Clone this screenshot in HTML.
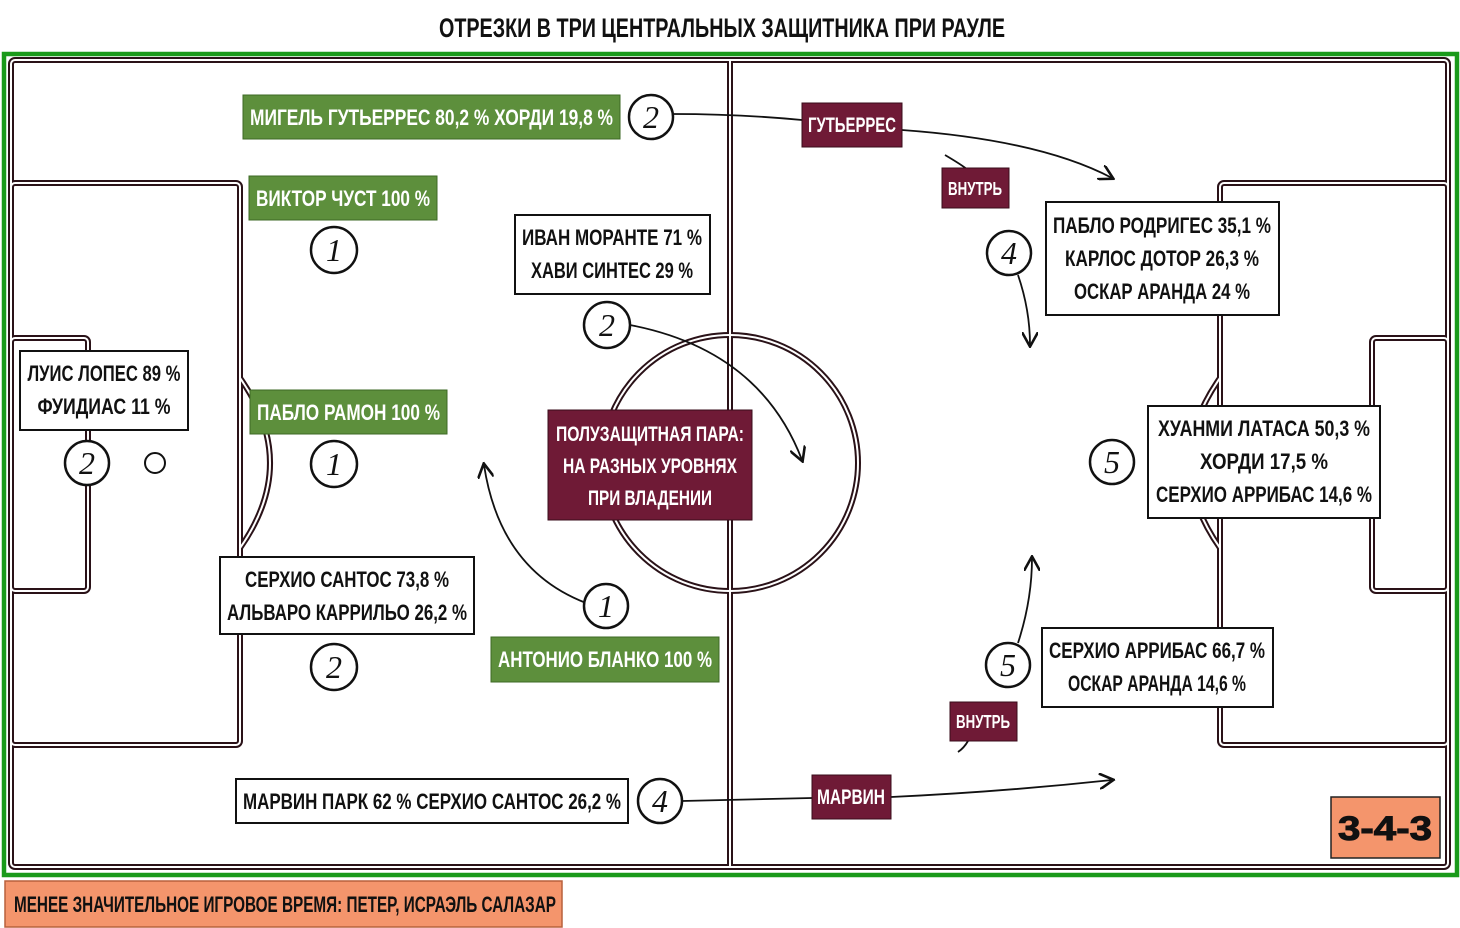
<!DOCTYPE html>
<html><head><meta charset="utf-8"><style>
html,body{margin:0;padding:0;background:#fff;}
svg{display:block}
text{font-family:"Liberation Sans Narrow","Liberation Sans",sans-serif;font-weight:bold;}
text.num{font-family:"Liberation Serif",serif;font-style:italic;font-weight:normal;}
</style></head><body>
<svg width="1460" height="928" viewBox="0 0 1460 928" xmlns="http://www.w3.org/2000/svg">
<defs>
<marker id="ah" viewBox="0 0 10 10" refX="8" refY="5" markerWidth="9" markerHeight="9" orient="auto-start-reverse">
<path d="M0,0 L9,5 L0,10" fill="none" stroke="#111" stroke-width="1.6"/></marker>
</defs>
<rect width="1460" height="928" fill="#fff"/>
<text x="722" y="37" text-anchor="middle" font-size="27" fill="#111" textLength="566" lengthAdjust="spacingAndGlyphs">ОТРЕЗКИ В ТРИ ЦЕНТРАЛЬНЫХ ЗАЩИТНИКА ПРИ РАУЛЕ</text>
<rect x="4" y="54" width="1453" height="821" fill="none" stroke="#1a9a1a" stroke-width="4.5"/>
<g fill="none" stroke-linejoin="round">
<g stroke="#2a1218" stroke-width="6">
<rect x="11" y="60" width="1437" height="807" rx="4"/>
<line x1="730" y1="60" x2="730" y2="867"/>
<circle cx="730" cy="463" r="128"/>
<rect x="11" y="183" width="229" height="562" rx="4"/>
<rect x="11" y="338" width="77" height="253" rx="4"/>
<rect x="1220" y="183" width="228" height="562" rx="4"/>
<rect x="1372" y="338" width="76" height="253" rx="4"/>
<path d="M240,378 Q300,463 240,548"/>
<path d="M1220,378 Q1160,463 1220,548"/>
</g>
<g stroke="#fff" stroke-width="2">
<rect x="11" y="60" width="1437" height="807" rx="4"/>
<line x1="730" y1="60" x2="730" y2="867"/>
<circle cx="730" cy="463" r="128"/>
<rect x="11" y="183" width="229" height="562" rx="4"/>
<rect x="11" y="338" width="77" height="253" rx="4"/>
<rect x="1220" y="183" width="228" height="562" rx="4"/>
<rect x="1372" y="338" width="76" height="253" rx="4"/>
<path d="M240,378 Q300,463 240,548"/>
<path d="M1220,378 Q1160,463 1220,548"/>
</g>
</g>
<g fill="none" stroke="#111" stroke-width="1.8">
<path d="M673,114 Q740,114 802,120"/>
<path d="M902,130 Q1040,140 1112,178" marker-end="url(#ah)"/>
<path d="M945,155 Q962,165 968,170"/>
<path d="M1018,275 Q1030,310 1030,345" marker-end="url(#ah)"/>
<path d="M630,325 Q760,350 802,460" marker-end="url(#ah)"/>
<path d="M586,603 Q500,570 484,465" marker-end="url(#ah)"/>
<path d="M682,801 L812,798"/>
<path d="M891,797 Q1000,792 1112,780" marker-end="url(#ah)"/>
<path d="M1018,643 Q1032,600 1032,558" marker-end="url(#ah)"/>
<path d="M968,741 Q964,748 958,752"/>
</g>
<g fill="#fff" stroke="#111" stroke-width="2.5">
<circle cx="651" cy="117" r="22"/><circle cx="334" cy="250" r="23"/>
<circle cx="607" cy="325" r="23"/><circle cx="87" cy="463" r="22"/>
<circle cx="334" cy="464" r="23"/><circle cx="334" cy="667" r="23"/>
<circle cx="606" cy="606" r="22"/><circle cx="660" cy="801" r="22"/>
<circle cx="1009" cy="253" r="22"/><circle cx="1112" cy="462" r="22"/>
<circle cx="1008" cy="665" r="22"/>
<circle cx="155" cy="463" r="10" stroke-width="2"/>
</g>
<g font-size="32" text-anchor="middle" fill="#111">
<text class="num" x="651" y="128">2</text><text class="num" x="334" y="261">1</text>
<text class="num" x="607" y="336">2</text><text class="num" x="87" y="474">2</text>
<text class="num" x="334" y="475">1</text><text class="num" x="334" y="678">2</text>
<text class="num" x="606" y="617">1</text><text class="num" x="660" y="812">4</text>
<text class="num" x="1009" y="264">4</text><text class="num" x="1112" y="473">5</text>
<text class="num" x="1008" y="676">5</text>
</g>
<g fill="#5d8f3c" stroke="#3d6a25" stroke-width="1">
<rect x="243" y="95" width="377" height="44"/>
<rect x="249" y="176" width="188" height="44"/>
<rect x="250" y="390" width="197" height="44"/>
<rect x="491" y="637" width="228" height="45"/>
</g>
<g fill="#fff" font-size="22">
<text x="250" y="125" textLength="363" lengthAdjust="spacingAndGlyphs">МИГЕЛЬ ГУТЬЕРРЕС  80,2 % ХОРДИ 19,8 %</text>
<text x="256" y="206" textLength="174" lengthAdjust="spacingAndGlyphs">ВИКТОР ЧУСТ  100 %</text>
<text x="257" y="420" textLength="183" lengthAdjust="spacingAndGlyphs">ПАБЛО РАМОН  100 %</text>
<text x="498" y="667" textLength="214" lengthAdjust="spacingAndGlyphs">АНТОНИО БЛАНКО  100 %</text>
</g>
<g fill="#fff" stroke="#111" stroke-width="2">
<rect x="515" y="215" width="195" height="79"/>
<rect x="20" y="351" width="168" height="79"/>
<rect x="220" y="557" width="254" height="77"/>
<rect x="236" y="779" width="392" height="44"/>
<rect x="1046" y="202" width="233" height="113"/>
<rect x="1148" y="406" width="232" height="112"/>
<rect x="1042" y="628" width="231" height="79"/>
</g>
<g fill="#111" font-size="22" text-anchor="middle">
<text x="612" y="245" textLength="180" lengthAdjust="spacingAndGlyphs">ИВАН МОРАНТЕ  71 %</text>
<text x="612" y="278" textLength="162" lengthAdjust="spacingAndGlyphs">ХАВИ СИНТЕС 29 %</text>
<text x="104" y="381" textLength="153" lengthAdjust="spacingAndGlyphs">ЛУИС ЛОПЕС 89 %</text>
<text x="104" y="414" textLength="133" lengthAdjust="spacingAndGlyphs">ФУИДИАС 11 %</text>
<text x="347" y="587" textLength="204" lengthAdjust="spacingAndGlyphs">СЕРХИО САНТОС  73,8 %</text>
<text x="347" y="620" textLength="240" lengthAdjust="spacingAndGlyphs">АЛЬВАРО КАРРИЛЬО  26,2 %</text>
<text x="432" y="809" textLength="378" lengthAdjust="spacingAndGlyphs">МАРВИН ПАРК  62 % СЕРХИО САНТОС 26,2 %</text>
<text x="1162" y="233" textLength="218" lengthAdjust="spacingAndGlyphs">ПАБЛО РОДРИГЕС  35,1 %</text>
<text x="1162" y="266" textLength="194" lengthAdjust="spacingAndGlyphs">КАРЛОС ДОТОР 26,3  %</text>
<text x="1162" y="299" textLength="176" lengthAdjust="spacingAndGlyphs">ОСКАР АРАНДА 24 %</text>
<text x="1264" y="436" textLength="212" lengthAdjust="spacingAndGlyphs">ХУАНМИ ЛАТАСА  50,3 %</text>
<text x="1264" y="469" textLength="128" lengthAdjust="spacingAndGlyphs">ХОРДИ 17,5  %</text>
<text x="1264" y="502" textLength="216" lengthAdjust="spacingAndGlyphs">СЕРХИО АРРИБАС  14,6 %</text>
<text x="1157" y="658" textLength="216" lengthAdjust="spacingAndGlyphs">СЕРХИО АРРИБАС 66,7 %</text>
<text x="1157" y="691" textLength="178" lengthAdjust="spacingAndGlyphs">ОСКАР АРАНДА 14,6 %</text>
</g>
<g fill="#6f1a36" stroke="#3a0c1b" stroke-width="1">
<rect x="548" y="410" width="204" height="110"/>
<rect x="802" y="103" width="100" height="44"/>
<rect x="942" y="168" width="67" height="40"/>
<rect x="812" y="775" width="79" height="44"/>
<rect x="950" y="702" width="67" height="39"/>
</g>
<g fill="#fff" font-size="21" text-anchor="middle">
<text x="650" y="441" textLength="188" lengthAdjust="spacingAndGlyphs">ПОЛУЗАЩИТНАЯ ПАРА:</text>
<text x="650" y="473" textLength="174" lengthAdjust="spacingAndGlyphs">НА РАЗНЫХ УРОВНЯХ</text>
<text x="650" y="505" textLength="124" lengthAdjust="spacingAndGlyphs">ПРИ ВЛАДЕНИИ</text>
<text x="852" y="132" textLength="88" lengthAdjust="spacingAndGlyphs">ГУТЬЕРРЕС</text>
<text x="975" y="195" font-size="18" textLength="54" lengthAdjust="spacingAndGlyphs">ВНУТРЬ</text>
<text x="851" y="804" textLength="68" lengthAdjust="spacingAndGlyphs">МАРВИН</text>
<text x="983" y="728" font-size="18" textLength="54" lengthAdjust="spacingAndGlyphs">ВНУТРЬ</text>
</g>
<rect x="1331" y="797" width="109" height="61" fill="#f4956c" stroke="#222" stroke-width="1.5"/>
<text x="1385" y="840" text-anchor="middle" font-size="34" fill="#111" stroke="#111" stroke-width="1" textLength="94" lengthAdjust="spacingAndGlyphs" style="font-family:'Liberation Sans',sans-serif;font-weight:900">3-4-3</text>
<rect x="5" y="881" width="557" height="46" fill="#f4956c" stroke="#b8603c" stroke-width="1.5"/>
<text x="14" y="912" font-size="22" fill="#111" textLength="542" lengthAdjust="spacingAndGlyphs">МЕНЕЕ ЗНАЧИТЕЛЬНОЕ ИГРОВОЕ ВРЕМЯ: ПЕТЕР, ИСРАЭЛЬ САЛАЗАР</text>
</svg>
</body></html>
